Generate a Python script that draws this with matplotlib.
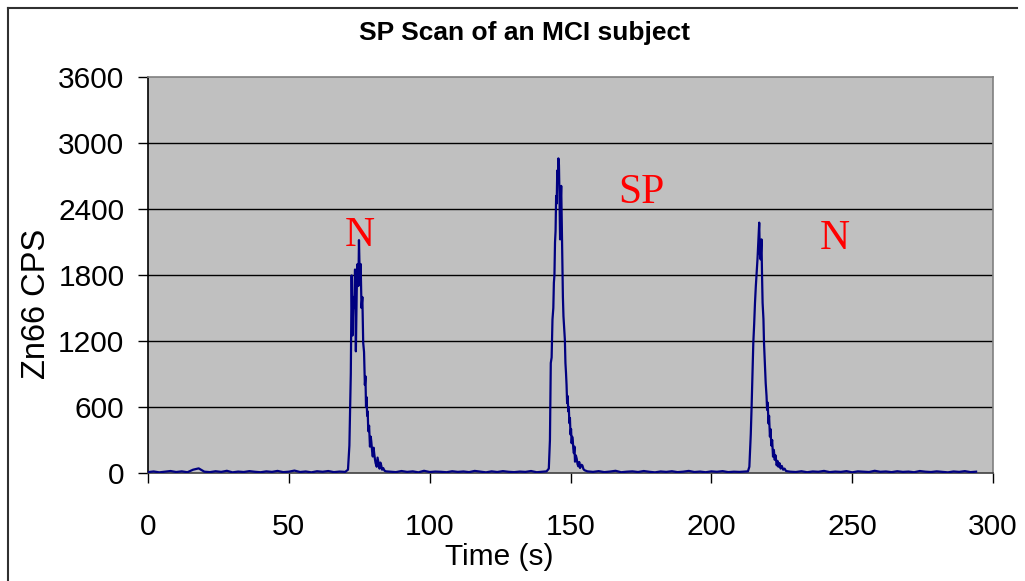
import matplotlib
matplotlib.use("Agg")
import matplotlib.pyplot as plt
from matplotlib import font_manager as fm
from matplotlib.lines import Line2D

# ---------------- data ----------------
base1_t = [0, 2, 4, 6, 8, 10, 12, 14, 16, 18, 20, 22, 24, 26, 28, 30, 32, 34,
           36, 38, 40, 42, 44, 46, 48, 50, 52, 54, 56, 58, 60, 62, 64, 66, 68, 70]
base1_v = [8, 14, 6, 12, 18, 9, 15, 7, 30, 42, 12, 8, 16, 10, 20, 6, 13, 9,
           17, 11, 7, 15, 10, 19, 8, 12, 22, 9, 14, 6, 16, 11, 18, 8, 13, 10]

peak1_t = [71.0, 71.5, 72.0, 72.3, 72.6, 72.9, 73.2, 73.5, 73.8, 74.1, 74.4, 74.7,
           74.9, 75.2, 75.5, 75.8, 76.1, 76.4, 76.7, 77.0, 77.2, 77.4, 77.6, 77.8,
           78.0, 78.2, 78.5, 78.8, 79.1, 79.3, 79.6, 79.8, 80.1, 80.3, 80.6, 80.8,
           81.2, 81.5, 81.7, 82.0, 82.2, 82.5, 82.8, 83.1, 83.5, 84.0, 84.5]
peak1_v = [30, 250, 900, 1796, 1250, 1600, 1500, 1850, 1106, 1650, 1900, 1700,
           2117, 1750, 1900, 1500, 1600, 1185, 1100, 800, 880, 604, 690, 520,
           560, 380, 430, 240, 330, 280, 190, 150, 230, 180, 120, 90,
           57, 140, 110, 60, 40, 95, 70, 30, 45, 20, 15]

base2_t = [86, 88, 90, 92, 94, 96, 98, 100, 102, 104, 106, 108, 110, 112,
           114, 116, 118, 120, 122, 124, 126, 128, 130, 132, 134, 136, 138, 140]
base2_v = [12, 8, 18, 10, 15, 6, 20, 9, 13, 11, 7, 16, 10, 14,
           8, 19, 12, 6, 15, 9, 17, 11, 8, 13, 10, 18, 7, 12]

peak2_t = [141.5, 142.3, 142.7, 143.0, 143.3, 143.6, 143.9, 144.1, 144.3, 144.5,
           144.7, 144.9, 145.1, 145.3, 145.5, 145.7, 145.9, 146.1, 146.3, 146.5,
           146.7, 146.9, 147.1, 147.3, 147.5, 147.8, 148.0, 148.2, 148.4, 148.6,
           148.8, 149.0, 149.2, 149.4, 149.6, 149.8, 150.0, 150.2, 150.4, 150.6,
           150.8, 151.0, 151.2, 151.4, 151.6, 151.9, 152.2, 152.5, 152.8, 153.1,
           153.4, 153.8, 154.2, 154.6, 155.0, 156.0]
peak2_v = [15, 40, 300, 1000, 1050, 1395, 1500, 1730, 1800, 2097,
           2200, 2519, 2450, 2750, 2650, 2860, 2800, 2500, 2124, 2450,
           2610, 2300, 1942, 1600, 1425, 1300, 1212, 1000, 911, 800,
           635, 700, 560, 600, 453, 500, 350, 400, 271, 330,
           300, 220, 180, 240, 103, 160, 130, 80, 60, 100,
           45, 75, 70, 35, 25, 15]

base3_t = [158, 160, 162, 164, 166, 168, 170, 172, 174, 176, 178, 180, 182, 184,
           186, 188, 190, 192, 194, 196, 198, 200, 202, 204, 206, 208, 210, 212]
base3_v = [10, 17, 8, 13, 20, 7, 12, 15, 9, 18, 11, 6, 14, 10,
           16, 8, 12, 19, 9, 13, 7, 15, 11, 17, 8, 12, 10, 14]

peak3_t = [213.0, 213.5, 214.0, 214.3, 214.6, 214.9, 215.2, 215.5, 215.8, 216.1,
           216.4, 216.7, 217.0, 217.2, 217.5, 217.8, 218.0, 218.2, 218.5, 218.7,
           219.0, 219.3, 219.6, 219.8, 220.0, 220.3, 220.5, 220.8, 221.0, 221.3,
           221.6, 221.9, 222.2, 222.5, 222.8, 223.2, 223.5, 223.8, 224.2, 224.6,
           225.0, 225.5, 226.0, 226.5]
peak3_v = [15, 57, 350, 604, 900, 1182, 1350, 1547, 1700, 1820,
           1950, 2124, 2276, 2000, 1942, 2124, 1800, 1547, 1400, 1182,
           1000, 817, 700, 574, 640, 450, 520, 331, 400, 250,
           300, 149, 210, 120, 160, 70, 110, 57, 90, 40,
           65, 30, 40, 18]

base4_t = [228, 230, 232, 234, 236, 238, 240, 242, 244, 246, 248, 250, 252, 254,
           256, 258, 260, 262, 264, 266, 268, 270, 272, 274, 276, 278, 280, 282,
           284, 286, 288, 290, 292, 294]
base4_v = [12, 9, 16, 7, 14, 11, 19, 8, 13, 10, 17, 6, 15, 12,
           9, 20, 11, 14, 8, 16, 10, 13, 7, 18, 12, 9, 15, 11,
           6, 14, 10, 17, 8, 12]

x_ticks = [0, 50, 100, 150, 200, 250, 300]
y_ticks = [0, 600, 1200, 1800, 2400, 3000, 3600]

labels = ["N", "SP", "N"]
label_x = [75.3, 175.0, 243.9]
label_y = [2060, 2452, 2033]

title = "SP Scan of an MCI subject"
xlabel = "Time (s)"
ylabel = "Zn66 CPS"

# ---------------- fonts ----------------
names = {f.name for f in fm.fontManager.ttflist}
narrow = "Liberation Sans Narrow" if "Liberation Sans Narrow" in names else "Liberation Sans"
sans = "Liberation Sans"
serif = "Liberation Serif"

# ---------------- figure ----------------
W, H = 1025, 581
fig = plt.figure(figsize=(W / 100, H / 100), dpi=100)
fig.patch.set_facecolor("white")

L, R, B, T = 148 / W, 993 / W, 1 - 473 / H, 1 - 77 / H
ax = fig.add_axes([L, B, R - L, T - B])
ax.set_facecolor("#c0c0c0")

t_all = base1_t + peak1_t + base2_t + peak2_t + base3_t + peak3_t + base4_t
v_all = base1_v + peak1_v + base2_v + peak2_v + base3_v + peak3_v + base4_v
ax.plot(t_all, v_all, color="#000080", lw=1.6, zorder=3)

ax.set_xlim(0, 300)
ax.set_ylim(0, 3600)
ax.set_xticks(x_ticks)
ax.set_yticks(y_ticks)
ax.set_xticklabels([str(v) for v in x_ticks], fontfamily=narrow, fontsize=21.5)
ax.set_yticklabels([str(v) for v in y_ticks], fontfamily=narrow, fontsize=21.5)
ax.tick_params(axis="y", direction="out", length=7, width=1, pad=10, colors="black")
ax.tick_params(axis="x", direction="out", length=7.5, width=1, pad=21, colors="black")

for yv in y_ticks[1:-1]:
    ax.axhline(yv, color="black", lw=1, zorder=1)

ax.spines["left"].set_color("black")
ax.spines["bottom"].set_color("#404040")
ax.spines["top"].set_color("#808080")
ax.spines["right"].set_color("#808080")
for s in ax.spines.values():
    s.set_linewidth(1.2)

for lab, lx, ly in zip(labels, label_x, label_y):
    ax.text(lx, ly, lab, color="red", fontfamily=serif, fontsize=30,
            ha="center", va="baseline", zorder=4)

fig.text(524.5 / W, 1 - 40 / H, title, fontfamily=narrow, fontweight="bold",
         fontsize=19, ha="center", va="baseline")
fig.text(499 / W, 1 - 565 / H, xlabel, fontfamily=narrow, fontsize=21.5,
         ha="center", va="baseline")
fig.text(37 / W, 1 - 304 / H, ylabel, fontfamily=sans, fontsize=23.5,
         rotation=90, ha="center", va="center")

# outer frame (left and top edges visible)
fig.add_artist(Line2D([8 / W, 8 / W], [0, 1 - 8 / H], transform=fig.transFigure,
                      color="#303030", lw=1.5))
fig.add_artist(Line2D([8 / W, 1017 / W], [1 - 8 / H, 1 - 8 / H], transform=fig.transFigure,
                      color="#303030", lw=1.5))

fig.savefig("out.png", dpi=100, facecolor="white")
